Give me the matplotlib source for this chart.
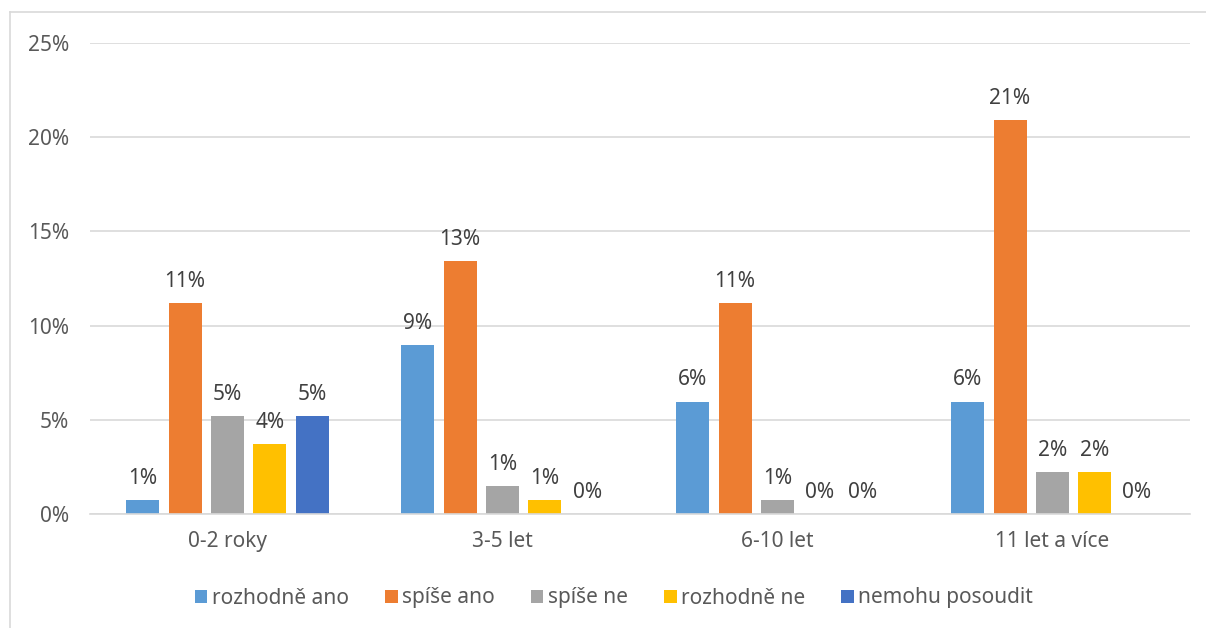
"""
Grouped bar chart: answers by length of practice.
"""

import numpy as np
import matplotlib.pyplot as plt
from matplotlib.lines import Line2D

plt.rcParams['font.family'] = ['Noto Sans', 'DejaVu Sans']

# data (percent of respondents)
categories = ['0-2 roky', '3-5 let', '6-10 let', '11 let a více']
series = ['rozhodně ano', 'spíše ano', 'spíše ne', 'rozhodně ne',
          'nemohu posoudit']
rozhodne_ano = [0.75, 8.96, 5.97, 5.97]
spise_ano = [11.19, 13.43, 11.19, 20.90]
spise_ne = [5.22, 1.49, 0.75, 2.24]
rozhodne_ne = [3.73, 0.75, 0.0, 2.24]
nemohu_posoudit = [5.22, 0.0, 0.0, 0.0]
yticks = [0, 5, 10, 15, 20, 25]

COLORS = ['#5B9BD5', '#ED7D31', '#A5A5A5', '#FFC000', '#4472C4']
GRID = '#D9D9D9'
TEXT = '#595959'


def main():
    values = [rozhodne_ano, spise_ano, spise_ne, rozhodne_ne,
              nemohu_posoudit]

    fig = plt.figure(figsize=(12.06, 6.28), dpi=100)
    ax = fig.add_axes([0.0746, 0.1815, 0.912, 0.75])

    # outer chart frame (top and left edges only)
    fig.add_artist(Line2D([10/1206, 1], [1-12/628, 1-12/628],
                          color=GRID, lw=1.2, transform=fig.transFigure))
    fig.add_artist(Line2D([10/1206, 10/1206], [0, 1-12/628],
                          color=GRID, lw=1.2, transform=fig.transFigure))

    x = np.arange(len(categories))
    pitch, width = 0.154, 0.12
    for i, (name, vals) in enumerate(zip(series, values)):
        pos = x + (i - 2) * pitch
        ax.bar(pos, vals, width, color=COLORS[i], label=name, zorder=2)
        for px, v in zip(pos, vals):
            ax.annotate('%.0f%%' % v, (px, v), xytext=(0, 8),
                        textcoords='offset points', ha='center',
                        va='bottom', fontsize=15, color='#404040')

    ax.set_xlim(-0.5, len(categories) - 0.5)
    ax.set_ylim(0, 25)
    ax.set_yticks(yticks)
    ax.set_yticklabels(['%d%%' % t for t in yticks])
    ax.set_xticks(x)
    ax.set_xticklabels(categories)
    ax.tick_params(axis='both', length=0, labelsize=15, colors=TEXT)
    ax.tick_params(axis='y', pad=15)
    ax.tick_params(axis='x', pad=12)
    ax.yaxis.grid(True, color=GRID, lw=1.2, zorder=0)
    ax.set_axisbelow(True)
    for side in ['top', 'right', 'left']:
        ax.spines[side].set_visible(False)
    ax.spines['bottom'].set_color(GRID)
    ax.spines['bottom'].set_linewidth(1.2)

    fig.legend(loc='center', bbox_to_anchor=(614/1206, 1-598/628),
               ncol=5, frameon=False, fontsize=15, labelcolor=TEXT,
               handlelength=0.6, handleheight=0.6, handletextpad=0.2,
               columnspacing=1.75)

    fig.savefig('out.png', dpi=100, facecolor='white')


if __name__ == '__main__':
    main()
